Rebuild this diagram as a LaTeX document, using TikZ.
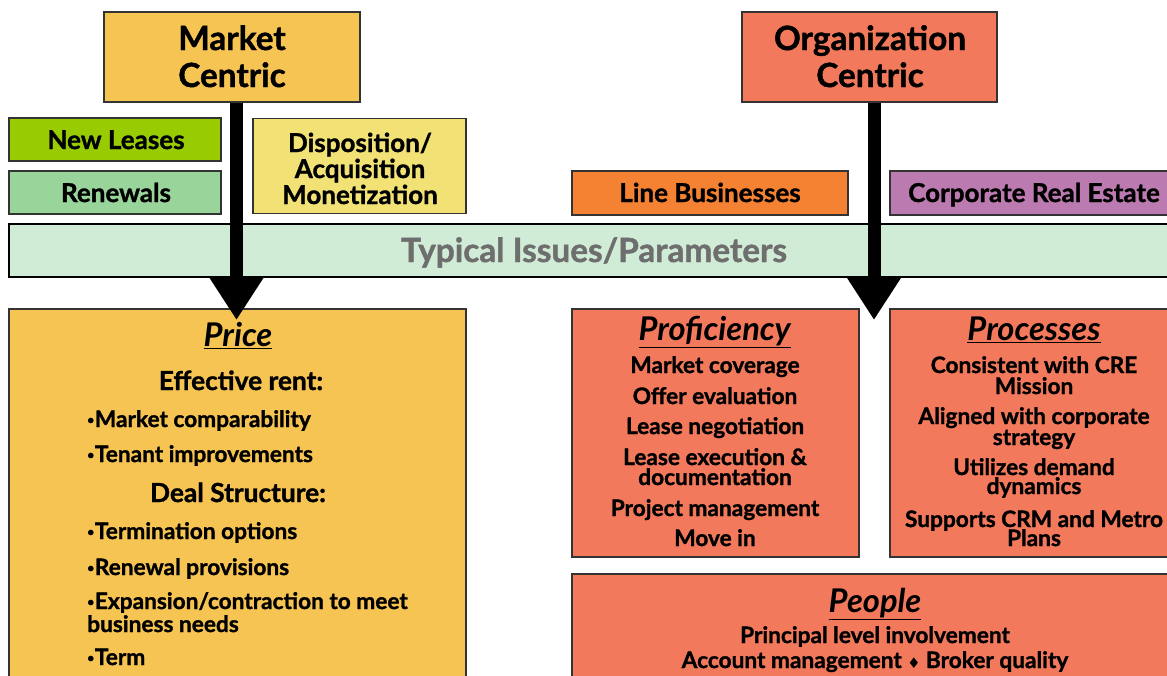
\documentclass[tikz,border=0pt]{standalone}
\usepackage{fontspec}
\setmainfont{Lato}[BoldFeatures={FakeBold=1.2}]
\newfontfamily\symfont{DejaVu Sans}
\usetikzlibrary{arrows.meta}

\definecolor{edge}{HTML}{333333}
\definecolor{mktfill}{HTML}{F6C452}
\definecolor{orgfill}{HTML}{F2795C}
\definecolor{newfill}{HTML}{99CC00}
\definecolor{renfill}{HTML}{99D49A}
\definecolor{dispfill}{HTML}{F2E276}
\definecolor{linefill}{HTML}{F58232}
\definecolor{crefill}{HTML}{BB7AB0}
\definecolor{bandfill}{HTML}{D0EBD6}
\definecolor{bandtext}{HTML}{6E6E6E}

\newcommand{\fs}[1]{\fontsize{#1}{1.2\dimexpr#1pt\relax}\selectfont\bfseries}
\newcommand{\ttl}[1]{\underline{\textit{#1}}}
\newcommand{\bul}{\raisebox{2.2pt}{\fontsize{9}{9}\selectfont •}\hspace{0.5pt}}

\begin{document}
\begin{tikzpicture}[x=0.75pt,y=-0.75pt,
  box/.style={draw=edge, line width=1.1pt, inner sep=0pt},
  sz/.style 2 args={minimum width=#1*0.75pt, minimum height=#2*0.75pt},
  bigtxt/.style={anchor=base, inner sep=0pt, font=\fs{25}},
  sidetxt/.style={anchor=base, inner sep=0pt, font=\fs{19.5}},
  bandtxt/.style={anchor=base, inner sep=0pt, font=\fs{25}, text=bandtext},
  secttl/.style={anchor=base, inner sep=0pt, font=\fs{24.5}},
  headtxt/.style={anchor=base, inner sep=0pt, font=\fs{19.7}},
  itemc/.style={anchor=base, inner sep=0pt, font=\fs{17}},
  iteml/.style={anchor=base west, inner sep=0pt, font=\fs{17}},
  bigarrow/.style={line width=9.75pt, -{Triangle[width=39pt,length=32.25pt]}}
]
\useasboundingbox (0,0) rectangle (1167,675);
\clip (0,0) rectangle (1167,675);

% top-level boxes
\node[box, fill=mktfill, sz={256}{90}] (mc) at (232,57) {};
\node[box, fill=orgfill, sz={255}{90}] (oc) at (869.5,57) {};

% category boxes
\node[box, fill=newfill, sz={212}{43}] (nl) at (115,139.5) {};
\node[box, fill=renfill, sz={212}{43}] (rn) at (115,192.5) {};
\node[box, fill=dispfill, sz={213}{95}] (dp) at (359.5,166) {};
\node[box, fill=linefill, sz={276}{44}] (lb) at (710,193) {};
\node[box, fill=crefill, sz={290}{44}] (cr) at (1035,193) {};

% parameter band
\node[box, draw=black, fill=bandfill, sz={1170}{53}] (band) at (594,250.5) {};

% lower boxes
\node[box, fill=mktfill, sz={457}{400}] (price) at (237.5,509) {};
\node[box, fill=orgfill, sz={287}{248}] (prof) at (715.5,433) {};
\node[box, fill=orgfill, sz={280}{248}] (proc) at (1030,433) {};
\node[box, fill=orgfill, sz={606}{140}] (ppl) at (875,644) {};

% labels of the top boxes
\node[bigtxt] (mc1) at (232,50) {Market};
\node[bigtxt] (mc2) at (232,87) {Centric};
\node[bigtxt] (oc1) at (870,50) {Organization};
\node[bigtxt] (oc2) at (870,87) {Centric};

\node[sidetxt] (nlt) at (116,149) {New Leases};
\node[sidetxt] (rnt) at (116,202) {Renewals};
\node[sidetxt] (dp1) at (360,152) {Disposition/};
\node[sidetxt] (dp2) at (360,178) {Acquisition};
\node[sidetxt] (dp3) at (360,204) {Monetization};
\node[sidetxt] (lbt) at (710,202) {Line Businesses};
\node[sidetxt] (crt) at (1034,202) {Corporate Real Estate};

\node[bandtxt] (bandt) at (594,262) {Typical Issues/Parameters};

% Price
\node[secttl] (pr0) at (238,346) {\ttl{Price}};
\node[headtxt] (pr1) at (241,390) {Effective rent:};
\node[iteml] (pr2) at (87,427) {\bul Market comparability};
\node[iteml] (pr3) at (87,462) {\bul Tenant improvements};
\node[headtxt] (pr4) at (238,502) {Deal Structure:};
\node[iteml] (pr5) at (87,539) {\bul Termination options};
\node[iteml] (pr6) at (87,575) {\bul Renewal provisions};
\node[iteml] (pr7) at (87,609) {\bul Expansion/contraction to meet};
\node[iteml] (pr8) at (87,632) {business needs};
\node[iteml] (pr9) at (87,665) {\bul Term};

% Proficiency
\node[secttl] (pf0) at (715,340) {\ttl{Proficiency}};
\node[itemc] (pf1) at (715,373) {Market coverage};
\node[itemc] (pf2) at (715,404) {Offer evaluation};
\node[itemc] (pf3) at (715,434) {Lease negotiation};
\node[itemc] (pf4) at (715,465) {Lease execution \&};
\node[itemc] (pf5) at (715,485) {documentation};
\node[itemc] (pf6) at (715,516) {Project management};
\node[itemc] (pf7) at (715,546) {Move in};

% Processes
\node[secttl] (pc0) at (1034,340) {\ttl{Processes}};
\node[itemc] (pc1) at (1034,373) {Consistent with CRE};
\node[itemc] (pc2) at (1034,394) {Mission};
\node[itemc] (pc3) at (1034,424) {Aligned with corporate};
\node[itemc] (pc4) at (1034,445) {strategy};
\node[itemc] (pc5) at (1034,475) {Utilizes demand};
\node[itemc] (pc6) at (1034,494) {dynamics};
\node[itemc] (pc7) at (1034,527) {Supports CRM and Metro};
\node[itemc] (pc8) at (1034,546) {Plans};

% People
\node[secttl] (pp0) at (875,612) {\ttl{People}};
\node[itemc] (pp1) at (875,643) {Principal level involvement};
\node[itemc] (pp2) at (875,668) {Account management {\symfont\fontsize{11}{13}\selectfont ♦} Broker quality};

% downward arrows
\coordinate (tipA) at (236.5,320);
\coordinate (tipB) at (874,320);
\draw[bigarrow] (mc.south -| tipA) -- (tipA);
\draw[bigarrow] (oc.south -| tipB) -- (tipB);
\end{tikzpicture}
\end{document}
